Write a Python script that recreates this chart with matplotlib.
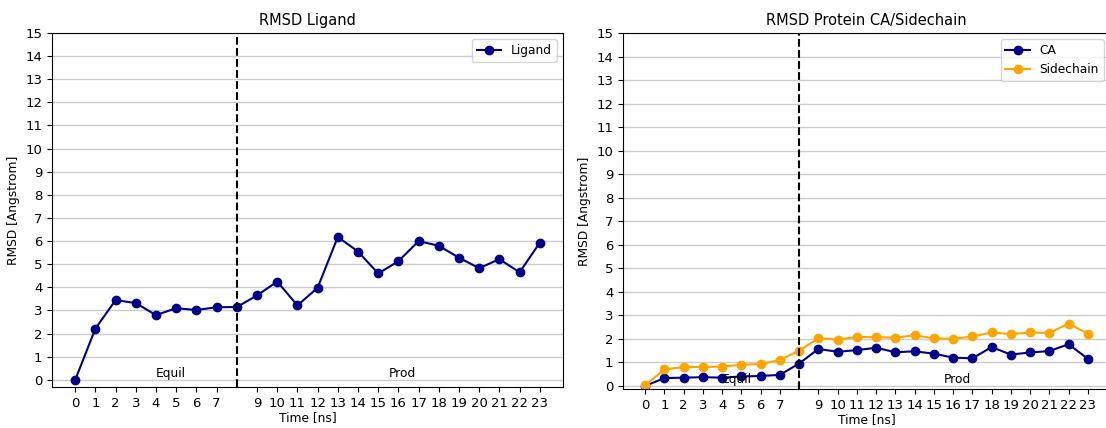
import matplotlib
matplotlib.use("Agg")
import matplotlib.pyplot as plt

plt.rcParams["font.size"] = 8.8
plt.rcParams["axes.titlesize"] = 10.5
plt.rcParams["xtick.labelsize"] = 9.5
plt.rcParams["ytick.labelsize"] = 9.5

time_ns = list(range(24))
tick_pos = [t for t in time_ns if t != 8]

ligand = [0.0, 2.22, 3.45, 3.32, 2.8, 3.1, 3.02, 3.14, 3.15, 3.65, 4.25, 3.22,
          3.98, 6.18, 5.55, 4.6, 5.13, 6.0, 5.8, 5.28, 4.83, 5.22, 4.65, 5.93]
ca = [0.0, 0.33, 0.35, 0.37, 0.35, 0.4, 0.42, 0.47, 0.95, 1.57, 1.45, 1.52,
      1.62, 1.43, 1.47, 1.37, 1.2, 1.17, 1.65, 1.33, 1.42, 1.48, 1.77, 1.15]
sidechain = [0.02, 0.7, 0.8, 0.8, 0.82, 0.9, 0.93, 1.1, 1.5, 2.02, 1.97, 2.08,
             2.07, 2.05, 2.15, 2.02, 2.0, 2.1, 2.27, 2.2, 2.27, 2.25, 2.65, 2.22]

equil_end = 8
sim_end = 23

W, H = 1106, 428
fig = plt.figure(figsize=(W / 100, H / 100), dpi=100)
ax1 = fig.add_axes([52 / W, (H - 387) / H, 511 / W, 354 / H])
ax2 = fig.add_axes([623 / W, (H - 389) / H, 487 / W, 356 / H])


def style(ax, title):
    ax.set_ylim(top=15)
    ax.set_yticks(range(16))
    ax.set_xticks(tick_pos)
    ax.grid(True, axis="y", color="#cccccc", linewidth=1)
    ax.set_axisbelow(True)
    ax.axvline(equil_end, color="black", linestyle="--", linewidth=1.5)
    ax.text(equil_end / 2, 0.0, "Equil", ha="left", va="bottom")
    ax.text((equil_end + sim_end) / 2, 0.0, "Prod", ha="left", va="bottom")
    ax.set_title(title)
    ax.set_xlabel("Time [ns]", labelpad=1)
    ax.set_ylabel("RMSD [Angstrom]")
    ax.legend(loc="upper right")


ax1.plot(time_ns, ligand, marker="o", color="darkblue", label="Ligand")
style(ax1, "RMSD Ligand")

ax2.plot(time_ns, ca, marker="o", color="darkblue", label="CA")
ax2.plot(time_ns, sidechain, marker="o", color="orange", label="Sidechain")
style(ax2, "RMSD Protein CA/Sidechain")

fig.savefig("out.png", dpi=100)
